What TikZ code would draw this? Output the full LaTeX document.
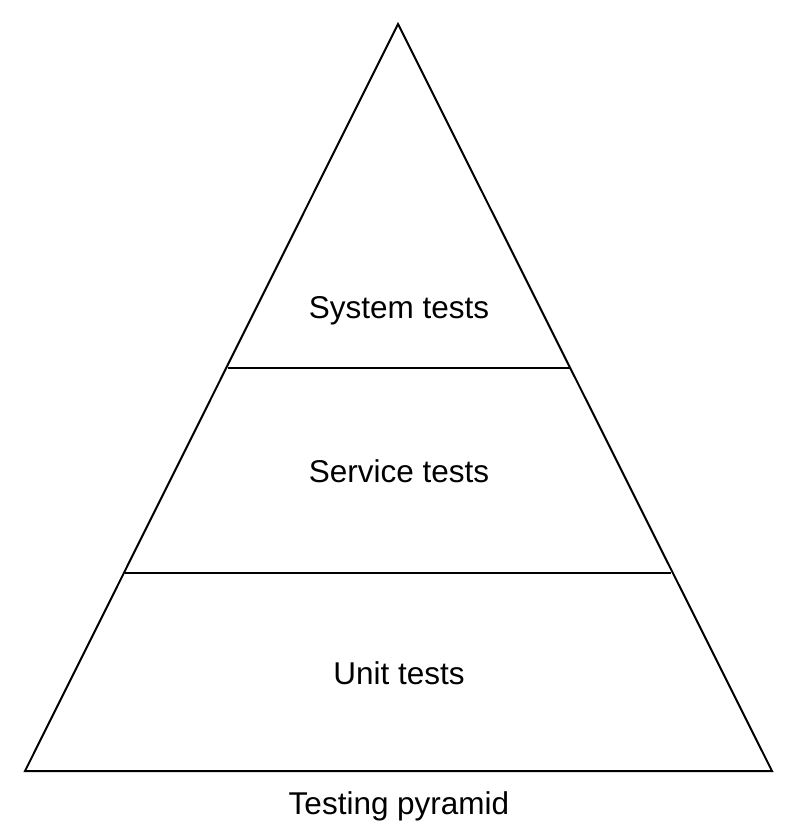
\documentclass[tikz,border=0pt]{standalone}
\usepackage{fontspec}
\setmainfont{Liberation Sans}
\begin{document}
\begin{tikzpicture}[x=1pt,y=-1pt,
  edge/.style={draw=black,line width=2pt,line join=miter},
  lbl/.style={font=\fontsize{31.5}{38}\selectfont,inner sep=0pt,anchor=base}]
\useasboundingbox (0,0) rectangle (797,840);
\coordinate (apex) at (398,24);
\coordinate (bl) at (25,771);
\coordinate (br) at (772,771);
\coordinate (l1) at (228,368);
\coordinate (r1) at (570,368);
\coordinate (l2) at (125,573);
\coordinate (r2) at (671,573);
\draw[edge] (apex) -- (br) -- (bl) -- cycle;
\draw[edge] (l1) -- (r1);
\draw[edge] (l2) -- (r2);
\node[lbl] (sys) at (399,318) {System tests};
\node[lbl] (svc) at (399,482) {Service tests};
\node[lbl] (unit) at (399,684) {Unit tests};
\node[lbl] (cap) at (399,814) {Testing pyramid};
\end{tikzpicture}
\end{document}
